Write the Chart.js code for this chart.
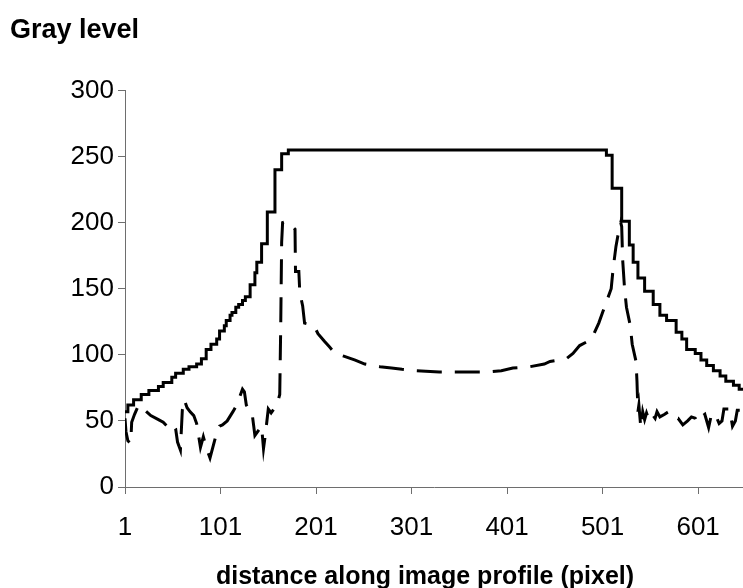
<!DOCTYPE html>
<html>
<head>
<meta charset="utf-8">
<script src="https://cdn.jsdelivr.net/npm/chart.js@4.4.1/dist/chart.umd.min.js"></script>
<style>
  html, body { margin: 0; padding: 0; background: #fff; }
  #wrap { width: 743px; height: 588px; }
</style>
</head>
<body>
<div id="wrap"><canvas id="profile" width="743" height="588"></canvas></div>
<script>
// x ticks shown on the axis
const xTicks = [1, 101, 201, 301, 401, 501, 601];

// solid profile: x where the gray level steps to the new value
const solidX = [1, 4, 10, 18, 26, 36, 41, 50, 54, 62,
  68, 76, 81, 86, 91, 97, 100, 105, 107, 111,
  113, 117, 120, 124, 127, 132, 137, 139, 144, 150,
  158, 165, 172, 502, 505, 511, 521, 529, 533, 538,
  545, 554, 561, 568, 578, 584, 589, 598, 604, 610,
  617, 624, 630, 638, 644, 648];
const solidY = [57, 62, 66, 70, 73, 76, 79, 83, 86, 89,
  91, 93, 97, 104, 108, 112, 118, 122, 126, 130,
  132, 136, 138, 141, 144, 153, 162, 170, 184, 208,
  240, 252, 255, 255, 251, 226, 201, 183, 170, 158,
  148, 138, 130, 126, 117, 112, 104, 101, 96, 92,
  88, 84, 80, 77, 74, 73];

// dashed profile
const dashX = [1, 2, 4, 7, 8, 11, 14, 18, 22, 28,
  36, 41, 45, 48, 51, 54, 56, 59, 61, 63,
  66, 69, 73, 76, 80, 83, 86, 90, 97, 100,
  103, 108, 114, 118, 121, 124, 126, 128, 131, 134,
  137, 141, 144, 146, 148, 151, 154, 160, 163, 164,
  165, 166, 170, 175, 179, 179.5, 183, 184, 187, 189,
  199, 203, 210, 215, 221, 230, 242, 252, 268, 280,
  291, 305, 330, 360, 380, 395, 407, 425, 440, 446,
  463, 470, 477, 485, 490, 497, 503, 510, 512, 515,
  517, 519, 520, 521, 522, 524, 526, 530, 532, 536,
  537, 538, 539, 541, 543, 545, 547, 549, 552, 556,
  558, 561, 566, 568, 571, 580, 585, 590, 594, 598,
  600, 604, 608, 612, 615, 619, 623, 626, 628, 634,
  637, 640, 642, 645, 648];
const dashY = [52, 42, 35, 33, 49, 55, 60, 62, 58, 54,
  51, 49, 46, 47, 48, 44, 34, 28, 58, 66,
  60, 57, 54, 48, 30, 38, 30, 22, 41, 46,
  47, 50, 57, 62, 68, 74, 72, 62, 58, 56,
  39, 43, 46, 29, 40, 59, 56, 62, 70, 120,
  185, 200, 201, 198, 195, 163, 163, 147, 137, 124,
  122, 116, 110, 106, 101, 99, 96, 93, 91, 90,
  89, 88, 87, 87, 87, 88, 90, 91, 93, 95,
  97, 101, 107, 110, 113, 124, 136, 150, 165, 182,
  190, 197, 200, 197, 172, 150, 136, 122, 108, 95,
  80, 57, 62, 45, 57, 51, 56, 52, 56, 52,
  57, 53, 55, 56, 52, 52, 47, 50, 53, 52,
  49, 53, 55, 45, 55, 55, 48, 50, 59, 59,
  46, 50, 58, 58, 50];

const toPoints = (xs, ys) => xs.map((x, i) => ({ x: x, y: ys[i] }));

const FONT = '"Liberation Sans", Arial, Helvetica, sans-serif';
const AXIS = '#6e6e6e';

// x axis caption sits a little left of the plot centre in the original
const xCaption = {
  id: 'xCaption',
  afterDraw(chart) {
    const ctx = chart.ctx;
    ctx.save();
    ctx.font = 'bold 25px ' + FONT;
    ctx.fillStyle = '#000';
    ctx.textAlign = 'center';
    ctx.textBaseline = 'middle';
    ctx.fillText('distance along image profile (pixel)', chart.chartArea.left + 300, 577);
    ctx.restore();
  }
};

new Chart(document.getElementById('profile'), {
  type: 'line',
  data: {
    datasets: [{
      data: toPoints(solidX, solidY),
      borderColor: '#000',
      borderWidth: 3,
      stepped: 'before',
      pointRadius: 0
    }, {
      data: toPoints(dashX, dashY),
      borderColor: '#000',
      borderWidth: 3,
      borderDash: [25, 13],
      borderCapStyle: 'butt',
      tension: 0,
      pointRadius: 0
    }]
  },
  options: {
    responsive: false,
    animation: false,
    devicePixelRatio: 1,
    layout: { padding: { left: 10, top: 0, right: 0, bottom: 0 } },
    plugins: {
      legend: { display: false },
      tooltip: { enabled: false },
      title: {
        display: true,
        text: 'Gray level',
        align: 'start',
        color: '#000',
        font: { family: FONT, size: 27, weight: 'bold', lineHeight: 1.2 },
        padding: { top: 14, bottom: 44 }
      }
    },
    scales: {
      x: {
        type: 'linear',
        min: 1,
        max: 648,
        afterBuildTicks: (scale) => { scale.ticks = xTicks.map(v => ({ value: v })); },
        afterFit: (scale) => { scale.height = 101; },
        grid: { drawOnChartArea: false, drawTicks: true, tickLength: 7, color: AXIS },
        border: { display: true, color: AXIS, width: 1 },
        ticks: {
          color: '#000',
          font: { family: FONT, size: 26 },
          padding: 18,
          autoSkip: false,
          maxRotation: 0,
          callback: (v) => String(v)
        }
      },
      y: {
        min: 0,
        max: 300,
        afterFit: (scale) => { scale.width = 115; },
        grid: { drawOnChartArea: false, drawTicks: true, tickLength: 7, color: AXIS },
        border: { display: true, color: AXIS, width: 1 },
        ticks: {
          stepSize: 50,
          color: '#000',
          font: { family: FONT, size: 26 },
          padding: 4
        }
      }
    }
  },
  plugins: [xCaption]
});
</script>
</body>
</html>
